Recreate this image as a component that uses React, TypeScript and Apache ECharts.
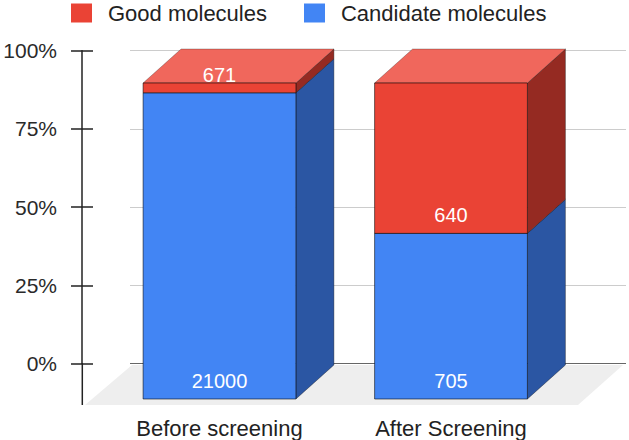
import React, { useEffect, useRef } from "react";
import * as echarts from "echarts";

const CATEGORIES = ["Before screening", "After Screening"];
const SERIES_NAMES = ["Candidate molecules", "Good molecules"];
const LEGEND_ORDER = ["Good molecules", "Candidate molecules"];
const CANDIDATE = [21000, 705];
const GOOD = [671, 640];
const Y_MIN = 0;
const Y_MAX = 100;
const Y_INTERVAL = 25;

const FONT = "'Liberation Sans', Arial, sans-serif";
const DX = 38;
const DY = 34;

const COLORS = {
  candidate: { front: "#4285f4", side: "#2b56a3", top: "#6b9ff6" },
  good: { front: "#ea4335", side: "#952a22", top: "#f0675c" },
};

function buildData(isGood: boolean) {
  return CATEGORIES.map((_, i) => {
    const total = CANDIDATE[i] + GOOD[i];
    const cPct = (CANDIDATE[i] / total) * 100;
    return isGood ? [i, cPct, 100, GOOD[i]] : [i, 0, cPct, CANDIDATE[i]];
  });
}

function makeRender(pal: { front: string; side: string; top: string }) {
  return (params: any, api: any) => {
    const i = api.value(0);
    const y0 = api.value(1);
    const y1 = api.value(2);
    const raw = api.value(3);
    const pb = api.coord([i, y0]);
    const pt = api.coord([i, y1]);
    const band = api.size([1, 0])[0];
    const w = band * 0.66;
    const xl = pb[0] - w / 2;
    const xr = pb[0] + w / 2;
    const yb = pb[1];
    const yt = pt[1];
    const children: any[] = [
      {
        type: "polygon",
        shape: { points: [[xr, yb], [xr, yt], [xr + DX, yt - DY], [xr + DX, yb - DY]] },
        style: { fill: pal.side, stroke: "rgba(0,0,0,0.35)", lineWidth: 1 },
      },
    ];
    if (y1 >= Y_MAX) {
      children.push({
        type: "polygon",
        shape: { points: [[xl, yt], [xr, yt], [xr + DX, yt - DY], [xl + DX, yt - DY]] },
        style: { fill: pal.top, stroke: "rgba(0,0,0,0.25)", lineWidth: 1 },
      });
    }
    children.push({
      type: "rect",
      shape: { x: xl, y: yt, width: w, height: yb - yt },
      style: { fill: pal.front, stroke: "rgba(0,0,0,0.55)", lineWidth: 1 },
    });
    children.push({
      type: "text",
      x: pb[0],
      y: yb - 8,
      style: {
        text: String(raw),
        fill: "#ffffff",
        font: `20px ${FONT}`,
        textAlign: "center",
        textVerticalAlign: "bottom",
      },
    });
    return { type: "group", children };
  };
}

export default function App() {
  const ref = useRef<HTMLDivElement>(null);
  useEffect(() => {
    if (!ref.current) return;
    const chart = echarts.init(ref.current, null, { renderer: "svg" });
    const axisColor = "#222222";
    chart.setOption({
      animation: false,
      backgroundColor: "#ffffff",
      textStyle: { fontFamily: FONT },
      legend: {
        data: LEGEND_ORDER,
        left: 71,
        top: 2,
        padding: 0,
        icon: "rect",
        itemWidth: 21,
        itemHeight: 19,
        itemGap: 37,
        textStyle: { fontSize: 22, color: "#222", fontFamily: FONT, padding: [0, 0, 0, 11] },
      },
      grid: [
        { left: 130, right: 3, top: 50.7, bottom: 76.5 },
        { left: 103.75, right: 62.25, top: 83, bottom: 41 },
      ],
      xAxis: [
        { gridIndex: 0, type: "category", data: CATEGORIES, show: false },
        {
          gridIndex: 1,
          type: "category",
          data: CATEGORIES,
          axisLine: { show: false },
          axisTick: { show: false },
          splitLine: { show: false },
          axisLabel: { margin: 18, fontSize: 22, color: "#222", fontFamily: FONT },
        },
      ],
      yAxis: [
        {
          gridIndex: 0,
          type: "value",
          position: "left",
          min: Y_MIN,
          max: Y_MAX,
          interval: Y_INTERVAL,
          offset: 48,
          axisLine: { show: true, lineStyle: { color: axisColor, width: 1.5 } },
          axisTick: { show: true, inside: false, length: 11, lineStyle: { color: axisColor, width: 1.5 } },
          axisLabel: { formatter: "{value}%", margin: 25, fontSize: 21, color: "#2a2a2a", fontFamily: FONT },
          splitLine: { show: true, lineStyle: { color: ["#666666", "#cccccc", "#cccccc", "#cccccc", "#cccccc"], width: 1 } },
        },
        {
          gridIndex: 0,
          type: "value",
          position: "left",
          min: Y_MIN,
          max: Y_MAX,
          interval: Y_INTERVAL,
          offset: 48,
          axisLine: { show: false },
          axisTick: { show: true, inside: true, length: 11, lineStyle: { color: axisColor, width: 1.5 } },
          axisLabel: { show: false },
          splitLine: { show: false },
        },
        { gridIndex: 1, type: "value", min: Y_MIN, max: Y_MAX, show: false },
      ],
      graphic: [
        {
          type: "polygon",
          z: -10,
          silent: true,
          shape: { points: [[85, 405], [578, 405], [623, 365], [132, 365]] },
          style: { fill: "#eeeeee" },
        },
        {
          type: "line",
          z: 10,
          silent: true,
          shape: { x1: 82.3, y1: 363, x2: 82.3, y2: 405 },
          style: { stroke: axisColor, lineWidth: 1.5 },
        },
      ],
      series: [
        {
          name: SERIES_NAMES[0],
          type: "custom",
          xAxisIndex: 1,
          yAxisIndex: 2,
          itemStyle: { color: COLORS.candidate.front },
          renderItem: makeRender(COLORS.candidate),
          data: buildData(false),
          z: 5,
        },
        {
          name: SERIES_NAMES[1],
          type: "custom",
          xAxisIndex: 1,
          yAxisIndex: 2,
          itemStyle: { color: COLORS.good.front },
          renderItem: makeRender(COLORS.good),
          data: buildData(true),
          z: 6,
        },
      ],
    });
    return () => chart.dispose();
  }, []);
  return (
    <div
      ref={ref}
      style={{ position: "fixed", left: 0, top: 0, width: 629, height: 440 }}
    />
  );
}
